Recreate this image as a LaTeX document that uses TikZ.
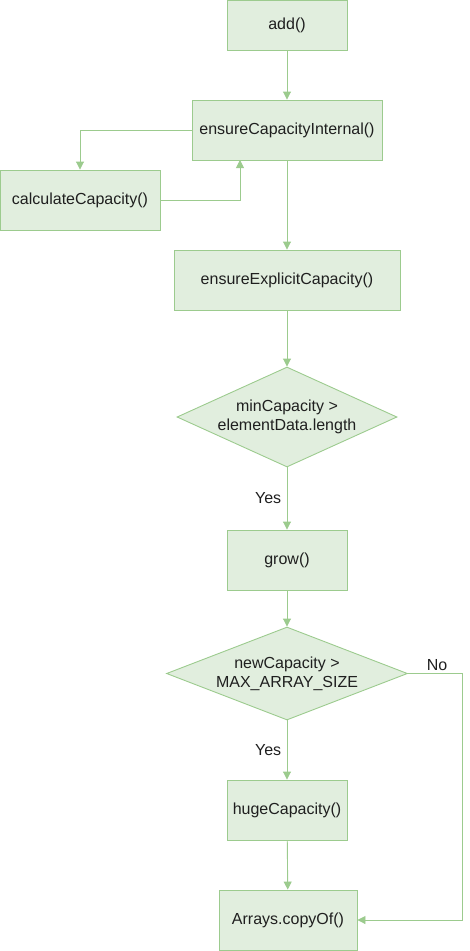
\documentclass[tikz,border=0pt]{standalone}
\usepackage{fontspec}
\setmainfont{Liberation Sans}
\usetikzlibrary{shapes.geometric,arrows.meta}
\definecolor{boxfill}{HTML}{E1EEDE}
\definecolor{boxline}{HTML}{9CCB8E}
\definecolor{txt}{HTML}{1F1F1F}

\begin{document}
\begin{tikzpicture}[x=1pt,y=1pt]
\tikzstyle{every node}+=[font=\fontsize{16}{19}\selectfont,text=txt]
\tikzstyle{stepbox}=[draw=boxline,fill=boxfill,line width=0.9pt,inner sep=0pt]
\tikzstyle{test}=[diamond,draw=boxline,fill=boxfill,line width=0.9pt,inner sep=0pt,align=center]
\tikzstyle{flow}=[draw=boxline,line width=0.9pt,-{Triangle[width=8pt,length=8pt]}]
\useasboundingbox (0,0) rectangle (469,-951);
\node [stepbox,minimum width=120,minimum height=50] (add) at (287,-25) {add()};
\node [stepbox,minimum width=190,minimum height=60] (eci) at (287,-130) {ensureCapacityInternal()};
\node [stepbox,minimum width=160,minimum height=60] (calc) at (80,-200) {calculateCapacity()};
\node [stepbox,minimum width=226,minimum height=60] (eec) at (287,-280) {ensureExplicitCapacity()};
\node [test,aspect=2.2,minimum width=220,minimum height=100] (min) at (287,-417) {minCapacity >\\elementData.length};
\node [stepbox,minimum width=120,minimum height=60] (grow) at (287,-560) {grow()};
\node [test,aspect=2.6,minimum width=241,minimum height=93] (max) at (287,-673.5) {newCapacity >\\MAX\_ARRAY\_SIZE};
\node [stepbox,minimum width=120,minimum height=60] (huge) at (287,-810) {hugeCapacity()};
\node [stepbox,minimum width=138,minimum height=60] (copy) at (288,-920) {Arrays.copyOf()};
\coordinate (bend) at (462,-673.5);
\draw [flow] (add) -- (eci);
\draw [flow] (eci.west) -| (calc.north);
\draw [flow] (calc.east) -| (240,-160);
\draw [flow] (eci) -- (eec);
\draw [flow] (eec) -- (min);
\draw [flow] (min) -- node [pos=0.5,left=2pt] {Yes} (grow);
\draw [flow] (grow) -- (max);
\draw [flow] (max) -- node [pos=0.5,left=2pt] {Yes} (huge);
\draw [flow] (huge) -- (copy);
\draw [flow] (max.east) -- (bend) |- (copy.east);
\node (no) at (437,-665) {No};
\end{tikzpicture}
\end{document}
